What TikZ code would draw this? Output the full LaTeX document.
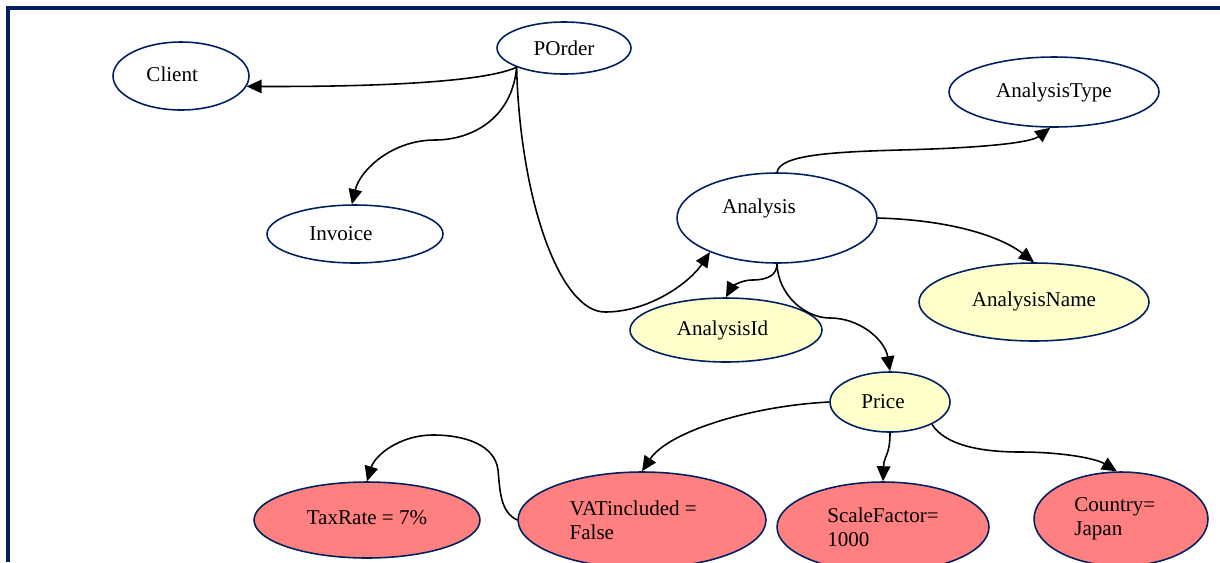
\documentclass[tikz,border=0pt]{standalone}
\usepackage{fontspec}
\setmainfont{Liberation Serif}
\usetikzlibrary{shapes.geometric, arrows.meta}

\definecolor{navyline}{RGB}{0,32,96}
\definecolor{attrfill}{RGB}{255,255,204}
\definecolor{valfill}{RGB}{255,128,128}

\tikzset{
  ent/.style={ellipse, draw=navyline, line width=0.9pt, fill=white, inner sep=0pt, font=\fontsize{12}{13.6}\selectfont},
  attr/.style={ent, fill=attrfill},
  val/.style={ent, fill=valfill, align=left},
  link/.style={line width=0.9pt, -{Triangle[length=3mm, width=2.7mm]}}
}

\begin{document}
\begin{tikzpicture}[x=0.02cm, y=-0.02cm]
    \useasboundingbox (0,0) rectangle (1220,562);

    % Frame (cut off at right and bottom)
    \draw[navyline, line width=2.2pt] (8,562) -- (8,8) -- (1220,8);

    % Entities
    \node[ent, minimum width=2.72cm, minimum height=1.36cm] (client) at (181,76) {\raisebox{2pt}{Client}\hspace*{10pt}};
    \node[ent, minimum width=2.68cm, minimum height=1.04cm] (porder) at (564,48) {POrder};
    \node[ent, minimum width=3.52cm, minimum height=1.16cm] (invoice) at (355,234) {Invoice\hspace*{16pt}};
    \node[ent, minimum width=4.2cm, minimum height=1.4cm] (atype) at (1054,92) {\raisebox{2pt}{AnalysisType}};
    \node[ent, minimum width=4.0cm, minimum height=1.8cm,
          label={[font=\fontsize{12}{13.6}\selectfont, xshift=-0.36cm, yshift=0.2cm]center:Analysis}] (analysis) at (777,218) {};

    % Attributes
    \node[attr, minimum width=4.6cm, minimum height=1.56cm] (aname) at (1034,302) {\raisebox{3pt}{AnalysisName}};
    \node[attr, minimum width=3.84cm, minimum height=1.28cm] (aid) at (726,330) {AnalysisId\hspace*{4pt}};
    \node[attr, minimum width=2.4cm, minimum height=1.2cm] (price) at (890,402) {Price\hspace*{8pt}};

    % Values
    \node[val, minimum width=4.52cm, minimum height=1.52cm] (tax) at (367,520) {\raisebox{3pt}{TaxRate = 7\%}};
    \node[val, minimum width=4.96cm, minimum height=1.92cm] (vat) at (642,520) {VATincluded =\hspace*{10pt}\\False};
    \node[val, minimum width=4.24cm, minimum height=1.8cm] (scale) at (883,527) {ScaleFactor=\\1000};
    \node[val, minimum width=3.48cm, minimum height=1.88cm] (country) at (1121,519) {Country=\hspace*{7pt}\\Japan};

    % Connectors
    \draw[link] (porder.202) .. controls (490,80) and (400,87) .. (client.-9);
    \draw[link] (porder.202) .. controls (512,120) and (470,140) .. (435,140)
                .. controls (392,140) and (360,170) .. (invoice.96);
    \draw[link] (porder.202) .. controls (520,200) and (560,312) .. (605,312)
                .. controls (650,312) and (690,282) .. (analysis.207);
    \draw[link] (analysis.north) .. controls (780,155) and (830,152) .. (900,150)
                .. controls (980,148) and (1030,143) .. (atype.264);
    \draw[link] (analysis.east) .. controls (950,220) and (1000,236) .. (aname.north);
    \draw[link] (analysis.south) .. controls (777,275) and (768,280) .. (752,280)
                .. controls (740,280) and (731,288) .. (aid.north);
    \draw[link] (analysis.south) .. controls (778,295) and (805,318) .. (830,318)
                .. controls (860,318) and (885,340) .. (price.north);
    \draw[link] (price.west) .. controls (750,406) and (668,432) .. (vat.north);
    \draw[link] (vat.west) .. controls (500,512) and (500,490) .. (498,470)
                .. controls (495,445) and (465,435) .. (433,435)
                .. controls (400,435) and (375,455) .. (tax.north);
    \draw[link] (price.south) .. controls (890,456) and (884,455) .. (scale.north);
    \draw[link] (price.-28) .. controls (945,445) and (980,452) .. (1020,452)
                .. controls (1060,452) and (1095,458) .. (country.95);
\end{tikzpicture}
\end{document}
